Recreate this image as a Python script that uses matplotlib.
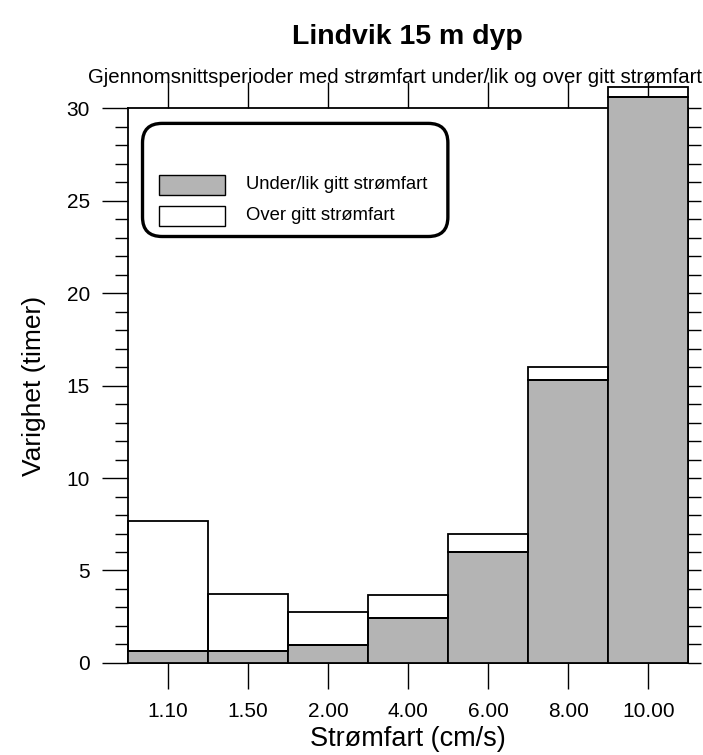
import numpy as np
import matplotlib.pyplot as plt
from matplotlib.patches import FancyBboxPatch, Rectangle
from matplotlib.ticker import MultipleLocator

plt.rcParams['font.family'] = ['Liberation Sans', 'DejaVu Sans']

# -------- DATA --------
categories = ['1.10', '1.50', '2.00', '4.00', '6.00', '8.00', '10.00']
under = [0.65, 0.65, 0.95, 2.45, 6.0, 15.3, 30.6]    # under/lik gitt strømfart
over = [7.0, 3.07, 1.81, 1.22, 0.97, 0.7, 0.57]      # over gitt strømfart (stacked)

gray = '#b4b4b4'

# -------- FIGURE --------
fig = plt.figure(figsize=(7.03, 7.55), dpi=100)
ax = fig.add_axes([0.182, 0.122, 0.797, 0.7344])

x = np.arange(len(categories))
ax.bar(x, under, width=1.0, color=gray, edgecolor='black', linewidth=1.3,
       zorder=3, clip_on=False)
ax.bar(x, over, bottom=under, width=1.0, facecolor='none', edgecolor='black',
       linewidth=1.3, zorder=3, clip_on=False)

ax.set_xlim(-0.5, len(categories) - 0.5)
ax.set_ylim(0, 30)

# bottom/top ticks at bar centres
ax.set_xticks(x)
ax.set_xticklabels(categories, fontsize=15)
ax.tick_params(axis='x', direction='out', length=18.5, width=1, pad=10,
               top=True, bottom=True, labeltop=False)

# left ticks
ax.yaxis.set_major_locator(MultipleLocator(5))
ax.yaxis.set_minor_locator(MultipleLocator(1))
ax.tick_params(axis='y', which='major', direction='out', length=18.5, width=1,
               labelsize=15, pad=9)
ax.tick_params(axis='y', which='minor', direction='out', length=9.5, width=1)

# right ticks, all short
sec = ax.secondary_yaxis('right')
sec.yaxis.set_major_locator(MultipleLocator(1))
sec.tick_params(axis='y', direction='out', length=9.5, width=1, labelright=False)

for s in ax.spines.values():
    s.set_linewidth(1.3)
for s in sec.spines.values():
    s.set_linewidth(1.3)

ax.set_xlabel('Strømfart (cm/s)', fontsize=19.5, labelpad=3)
ax.set_ylabel('Varighet (timer)', fontsize=19, labelpad=15)

# -------- TITLES --------
fig.text(0.58, 0.951, 'Lindvik 15 m dyp', ha='center', va='center',
         fontsize=20.5, fontweight='bold')
fig.text(0.125, 0.897, 'Gjennomsnittsperioder med strømfart under/lik og over gitt strømfart',
         ha='left', va='center', fontsize=14.7)

# -------- LEGEND --------
box = FancyBboxPatch((0.026, 0.769), 0.545, 0.204, transform=ax.transAxes,
                     boxstyle='round,pad=0,rounding_size=0.035',
                     facecolor='white', edgecolor='black', linewidth=2.4,
                     zorder=4)
ax.add_patch(box)
ax.add_patch(Rectangle((0.055, 0.844), 0.118, 0.036, transform=ax.transAxes,
                       facecolor=gray, edgecolor='black', linewidth=1, zorder=5))
ax.add_patch(Rectangle((0.055, 0.788), 0.118, 0.036, transform=ax.transAxes,
                       facecolor='white', edgecolor='black', linewidth=1, zorder=5))
ax.text(0.2105, 0.862, 'Under/lik gitt strømfart', transform=ax.transAxes,
        va='center', ha='left', fontsize=13.3, zorder=6)
ax.text(0.2105, 0.806, 'Over gitt strømfart', transform=ax.transAxes,
        va='center', ha='left', fontsize=13.3, zorder=6)

fig.savefig('out.png', dpi=100)
